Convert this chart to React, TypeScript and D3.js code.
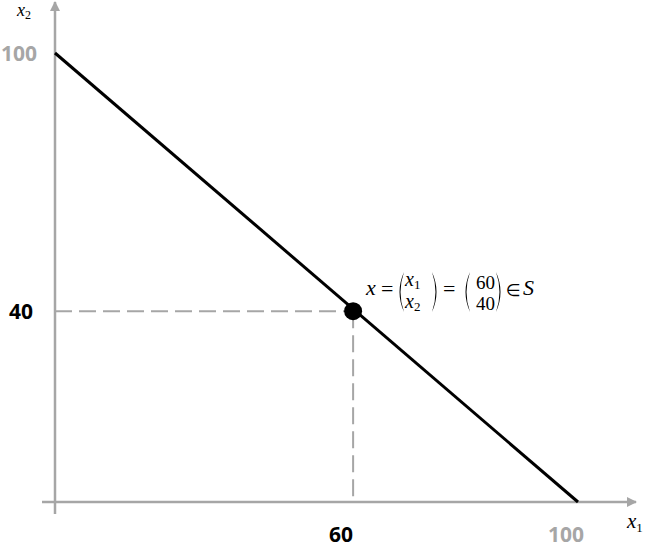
import React from "react";
import * as d3 from "d3";

// Data
const lineX = [0, 100];
const lineY = [100, 0];
const pointX = [57];
const pointY = [42.5];
const xTickLabels = ["60", "100"];
const yTickLabels = ["100", "40"];
const pointVector = ["60", "40"];

const W = 646;
const H = 547;
const GRAY = "#a6a6a6";

export default function App() {
  const x = d3.scaleLinear().domain([0, 100]).range([55, 578]);
  const y = d3.scaleLinear().domain([0, 100]).range([502, 53]);

  const linePts: [number, number][] = lineX.map((v, i) => [v, lineY[i]]);
  const lineGen = d3
    .line<[number, number]>()
    .x((d) => x(d[0]))
    .y((d) => y(d[1]));

  const px = x(pointX[0]);
  const py = y(pointY[0]);
  const x0 = x(0);
  const y0 = y(0);

  const labelFont = "'Open Sans', 'Noto Sans', sans-serif";
  const mathFont = "'Liberation Serif', 'DejaVu Serif', serif";

  const paren = (xl: number, top: number, bot: number, left: boolean) => {
    const mid = (top + bot) / 2;
    const w = 6;
    if (left) {
      return `M${xl + w},${top} Q${xl - 3},${mid} ${xl + w},${bot} Q${xl - 1},${mid} ${xl + w},${top} Z`;
    }
    return `M${xl},${top} Q${xl + w + 3},${mid} ${xl},${bot} Q${xl + w + 1},${mid} ${xl},${top} Z`;
  };

  return (
    <svg width={W} height={H} style={{ display: "block", position: "absolute", left: 0, top: 0 }}>
      <defs>
        <marker id="arr" viewBox="0 0 10 10" refX="9" refY="5" markerWidth="4" markerHeight="4" orient="auto">
          <path d="M0,0 L10,5 L0,10 z" fill={GRAY} />
        </marker>
      </defs>
      <rect width={W} height={H} fill="#fff" />
      {/* axes */}
      <line x1={42} y1={y0} x2={636} y2={y0} stroke={GRAY} strokeWidth={2.5} markerEnd="url(#arr)" />
      <line x1={x0} y1={514} x2={x0} y2={2} stroke={GRAY} strokeWidth={2.5} markerEnd="url(#arr)" />
      {/* dashed guides */}
      <line x1={x0} y1={py} x2={px} y2={py} stroke={GRAY} strokeWidth={2} strokeDasharray="17,7" />
      <line x1={px} y1={py} x2={px} y2={y0} stroke={GRAY} strokeWidth={2} strokeDasharray="17,7" />
      {/* budget line */}
      <path d={lineGen(linePts) || ""} stroke="#000" strokeWidth={3} fill="none" />
      {/* point */}
      <circle cx={px} cy={py} r={9} fill="#000" />
      {/* tick labels */}
      <text x={19} y={y(100)} dy="0.36em" textAnchor="middle" fontFamily={labelFont} fontWeight={700} fontSize={21} fill={GRAY}>
        {yTickLabels[0]}
      </text>
      <text x={21} y={py} dy="0.36em" textAnchor="middle" fontFamily={labelFont} fontWeight={700} fontSize={21} fill="#000">
        {yTickLabels[1]}
      </text>
      <text x={px - 12} y={542} textAnchor="middle" fontFamily={labelFont} fontWeight={700} fontSize={21} fill="#000">
        {xTickLabels[0]}
      </text>
      <text x={x(100) - 12} y={542} textAnchor="middle" fontFamily={labelFont} fontWeight={700} fontSize={21} fill={GRAY}>
        {xTickLabels[1]}
      </text>
      {/* axis titles */}
      <text x={627} y={528} fontFamily={mathFont} fontStyle="italic" fontSize={21} fill="#000">
        x<tspan fontSize={13} fontStyle="normal" dy={4}>1</tspan>
      </text>
      <text x={17} y={16} fontFamily={mathFont} fontStyle="italic" fontSize={18} fill="#000">
        x<tspan fontSize={12} fontStyle="normal" dy={3}>2</tspan>
      </text>
      {/* equation */}
      <g fontFamily={mathFont} fontSize={22} fill="#000">
        <text x={366} y={295} fontStyle="italic">x</text>
        <text x={381} y={296}>=</text>
        <path d={paren(398, 272, 312, true)} fill="#000" />
        <text x={405} y={286} fontStyle="italic" fontSize={20}>x<tspan fontSize={13} fontStyle="normal" dy={3}>1</tspan></text>
        <text x={405} y={308} fontStyle="italic" fontSize={20}>x<tspan fontSize={13} fontStyle="normal" dy={3}>2</tspan></text>
        <path d={paren(432, 272, 312, false)} fill="#000" />
        <text x={443} y={296}>=</text>
        <path d={paren(464, 272, 312, true)} fill="#000" />
        <text x={476} y={289} fontSize={19}>{pointVector[0]}</text>
        <text x={476} y={310} fontSize={19}>{pointVector[1]}</text>
        <path d={paren(496, 272, 312, false)} fill="#000" />
        <text x={506} y={296} fontFamily="'DejaVu Sans', sans-serif" fontSize={17}>∈</text>
        <text x={523} y={295} fontStyle="italic">S</text>
      </g>
    </svg>
  );
}
